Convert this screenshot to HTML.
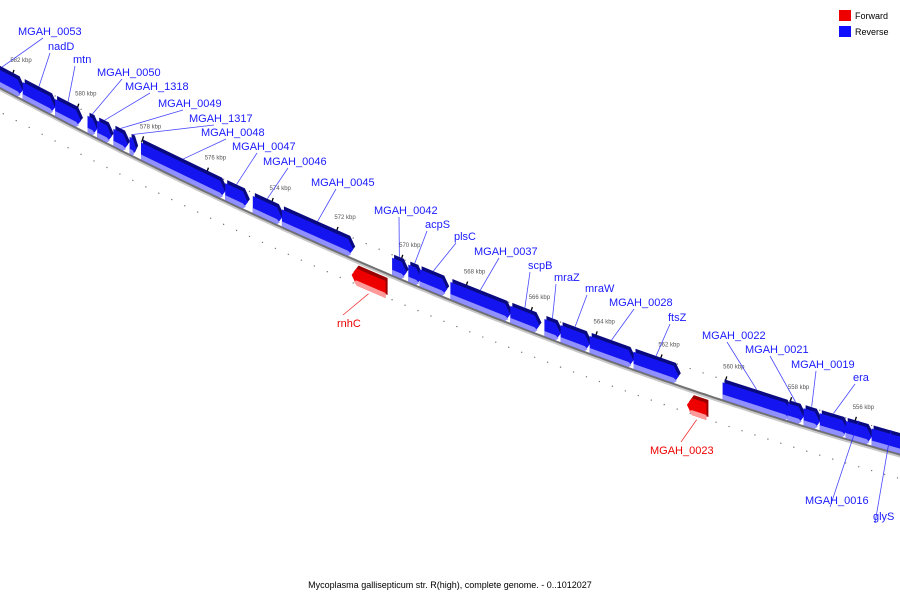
<!DOCTYPE html>
<html><head><meta charset="utf-8"><style>
body{margin:0;background:#fff;}
svg{display:block;font-family:"Liberation Sans","DejaVu Sans",sans-serif;}
</style></head><body>
<svg id="chart" width="900" height="600" viewBox="0 0 900 600">
<g id="rows"></g>
<g id="axis"></g>
<g id="genes"></g>
<g id="labels"></g>
<g>
<rect x="839" y="10" width="12" height="11" fill="#ee0000"/>
<text x="855" y="19" font-size="9" fill="#000">Forward</text>
<rect x="839" y="26" width="12" height="11" fill="#1010ff"/>
<text x="855" y="35" font-size="9" fill="#000">Reverse</text>
</g>
<text x="450" y="588" font-size="9" text-anchor="middle" fill="#000">Mycoplasma gallisepticum str. R(high), complete genome. - 0..1012027</text>
</svg>
<script>
const geneNames = ["MGAH_0053","nadD","mtn","MGAH_0050","MGAH_1318","MGAH_0049","MGAH_1317","MGAH_0048","MGAH_0047","MGAH_0046","MGAH_0045","rnhC","MGAH_0042","acpS","plsC","MGAH_0037","scpB","mraZ","mraW","MGAH_0028","ftsZ","MGAH_0023","MGAH_0022","MGAH_0021","MGAH_0019","era","MGAH_0016","glyS"];
const geneStart = [583.0,581.7,580.7,579.7,579.4,578.9,578.4,578.05,575.45,574.6,573.7,571.55,570.3,569.8,569.45,568.5,566.65,565.6,565.1,564.2,562.85,561.2,560.1,558.1,557.6,557.1,556.3,555.5];
const geneEnd   = [581.7,580.7,579.9,579.4,578.95,578.45,578.2,575.45,574.75,573.7,571.5,570.5,569.85,569.4,568.6,566.65,565.75,565.1,564.2,562.85,561.45,560.6,558.0,557.6,557.1,556.25,555.5,554.3];
const geneStrand = ["R","R","R","R","R","R","R","R","R","R","R","F","R","R","R","R","R","R","R","R","R","F","R","R","R","R","R","R"];
const labelPos = [[18,35],[48,50],[73,63],[97,76],[125,90],[158,107],[189,122],[201,136],[232,150],[263,165],[311,186],[337,327],[374,214],[425,228],[454,240],[474,255],[528,269],[554,281],[585,292],[609,306],[668,321],[650,454],[702,339],[745,353],[791,368],[853,381],[805,504],[873,520]];
const tickKbp = [582,580,578,576,574,572,570,568,566,564,562,560,558,556];
const kbpMax = 583.5, kbpMin = 553.5;

const NS="http://www.w3.org/2000/svg";
function xOf(k){ return 13 + (582-k)*32.4; }
function yLine(x){ return 88 + 0.534*x - 0.0001407*x*x; }
function mk(tag, attrs, parent){ const e=document.createElementNS(NS,tag); for(const a in attrs) e.setAttribute(a,attrs[a]); parent.appendChild(e); return e; }
const gAxis=document.getElementById('axis'), gRows=document.getElementById('rows'), gGenes=document.getElementById('genes'), gLab=document.getElementById('labels');

// axis line
let pts=[],pts2=[];
for(let x=-5;x<=905;x+=5){ pts.push(x+","+yLine(x).toFixed(1)); pts2.push(x+","+(yLine(x)+2).toFixed(1)); }
const l2=mk('polyline',{points:pts2.join(" "),fill:"none",stroke:"#c8c8c8","stroke-width":2},gAxis);


const l1=mk('polyline',{points:pts.join(" "),fill:"none",stroke:"#707070","stroke-width":2},gAxis);



// dots and ticks
for(let i=0;;i++){
  const k=kbpMax - i*0.4; if(k<kbpMin) break;
  const x=xOf(k);
  const ku=Math.round(k*10)/10;
  const isEven = Math.abs(ku-Math.round(ku))<0.01 && Math.round(ku)%2===0;
  const isOdd = Math.abs(ku-Math.round(ku))<0.01 && Math.round(ku)%2!==0;
  // upper row
  const yu=yLine(x)-21;
  if(!isEven){ const d=mk('circle',{cx:x,cy:yu,r:0.7,fill:"#777"},gRows);   }
  // lower row
  const yd=yLine(x)+24;
  if(isOdd){ const t=mk('line',{x1:x-1,y1:yd+3,x2:x+1,y2:yd-3,stroke:"#000","stroke-width":1.3},gRows);   }
  else { const d=mk('circle',{cx:x,cy:yd,r:0.7,fill:"#777"},gRows);   }
}
tickKbp.forEach(k=>{
  const x=xOf(k), y=yLine(x)-22;
  const t=mk('line',{x1:x-1,y1:y+3,x2:x+1,y2:y-3,stroke:"#000","stroke-width":1.3},gRows);
  
  
  const tx=mk('text',{x:x+8,y:y-11,"font-size":6,"text-anchor":"middle",fill:"#555"},gRows);
  tx.textContent=k+" kbp";
  
  
});

function P(a){ return a.map(p=>p[0].toFixed(1)+","+p[1].toFixed(1)).join(" "); }
geneNames.forEach((name,i)=>{
  const x1=xOf(geneStart[i]), x2=xOf(geneEnd[i]);
  const fwd=geneStrand[i]==="F";
  const g=mk('g',{},gGenes);
  
  
  const tip=Math.min(5,(x2-x1)/2);
  let top,bot,front,light,dark,c1,c2,c3;
  if(!fwd){ top=-18; bot=-1; }
  else { top=8; bot=25; }
  const Y=(x,o)=>yLine(x)+o;
  const mid=(top+bot)/2;
  if(!fwd){
    front=[[x1,Y(x1,top)],[x2-tip,Y(x2-tip,top)],[x2,Y(x2,mid)],[x2-tip,Y(x2-tip,bot)],[x1,Y(x1,bot)]];
  } else {
    front=[[x1+tip,Y(x1+tip,top)],[x2,Y(x2,top)],[x2,Y(x2,bot)],[x1+tip,Y(x1+tip,bot)],[x1,Y(x1,mid)]];
  }
  c1=fwd?"#990000":"#0a0a80"; c2=fwd?"#ee0000":"#1414f0"; c3=fwd?"#ff9a9a":"#9090ff";
  const back=front.map(p=>[p[0]+2,p[1]-3]);
  mk('polygon',{points:P(back),fill:c1},g);
  mk('polygon',{points:P(front),fill:c2},g);
  const lt = front.map(p=>[p[0], p[1]]);
  // light bottom strip
  const lb=fwd?[[x1+tip,Y(x1+tip,bot-5)],[x2,Y(x2,bot-5)],[x2,Y(x2,bot)],[x1+tip,Y(x1+tip,bot)],[x1+2,Y(x1+2,bot-3)]]
             :[[x1,Y(x1,bot-5)],[x2-tip,Y(x2-tip,bot-5)],[x2-2,Y(x2-2,bot-3)],[x2-tip,Y(x2-tip,bot)],[x1,Y(x1,bot)]];
  mk('polygon',{points:P(lb),fill:c3},g);
  // label + callout
  const col=fwd?"#ee0000":"#1a1aff";
  const lp=labelPos[i];
  const t=mk('text',{x:lp[0],y:lp[1],"font-size":11,fill:col},gLab);
  t.textContent=name;
  
  
  const gx=Math.max(2,Math.min(898,(x1+x2)/2));
  let lx,ly,gy;
  if(!fwd){ lx=lp[0]+(name.length>5?25:2); ly=lp[1]+3; gy=Y(gx,top-4); }
  else { lx=lp[0]+(name.length>5?31:6); ly=lp[1]-12; gy=Y(gx,bot+3); }
  const ln=mk('line',{x1:lx,y1:ly,x2:gx,y2:gy,stroke:col,"stroke-width":0.8,opacity:0.8},gLab);
  
  
});
</script>
</body></html>
